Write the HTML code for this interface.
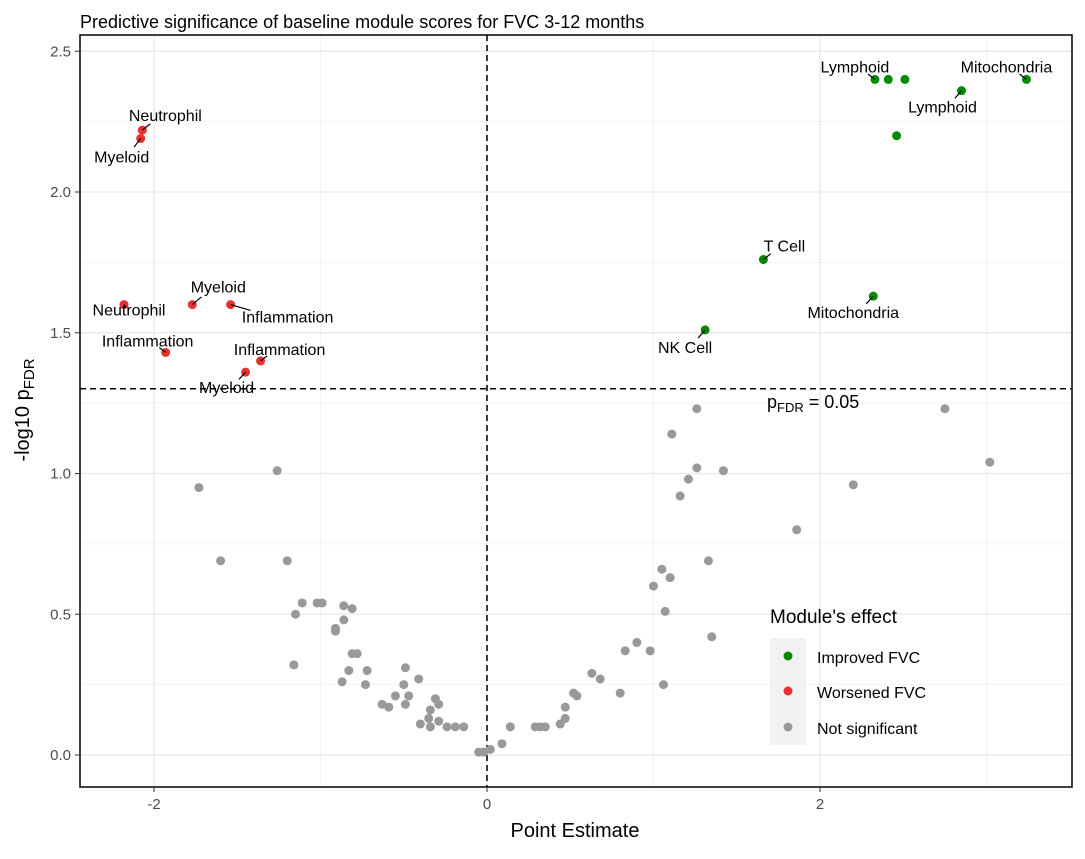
<!DOCTYPE html>
<html><head><meta charset="utf-8"><style>
body{margin:0;background:#fff;font-family:"Liberation Sans",Arial,sans-serif}
svg text{font-family:"Liberation Sans",Arial,sans-serif}
</style></head><body>
<svg id="chart" width="1085" height="854">
<text x="80" y="28" font-size="18" fill="#000">Predictive significance of baseline module scores for FVC 3-12 months</text>
<g id="grid"></g>
<g id="marks"></g>
<g id="labels"></g>
<rect x="80" y="35" width="992" height="752" fill="none" stroke="#000" stroke-width="1.5"/>
<g id="axes"></g>
<text x="575" y="837" font-size="20" text-anchor="middle">Point Estimate</text>
<text transform="translate(29,410) rotate(-90)" font-size="20" text-anchor="middle">-log10 p<tspan font-size="15" dy="5">FDR</tspan></text>
<g>
<text x="770" y="623" font-size="19">Module's effect</text>
<rect x="770" y="638" width="36" height="107" fill="#f2f2f2"/>
<circle cx="788" cy="656" r="4.5" fill="#008B00"/>
<circle cx="788" cy="691" r="4.5" fill="#E83232"/>
<circle cx="788" cy="727" r="4.5" fill="#999"/>
<text x="817" y="663" font-size="16">Improved FVC</text>
<text x="817" y="698" font-size="16">Worsened FVC</text>
<text x="817" y="734" font-size="16">Not significant</text>
</g>
</svg>
<script>
const grayX=[-1.73,-1.60,-1.26,-1.20,-1.15,-1.11,-1.16,-1.02,-0.99,-0.86,-0.81,-0.91,-0.91,-0.86,-0.81,-0.78,-0.87,-0.83,-0.72,-0.73,-0.63,-0.59,-0.55,-0.50,-0.49,-0.47,-0.41,-0.49,-0.40,-0.35,-0.34,-0.31,-0.29,-0.29,-0.34,-0.24,-0.19,-0.14,-0.05,-0.02,0.02,0.09,0.14,0.29,0.32,0.35,0.44,0.47,0.47,0.52,0.54,0.63,0.68,0.80,0.83,0.90,0.98,1.00,1.05,1.07,1.10,1.06,1.11,1.16,1.21,1.26,1.26,1.33,1.35,1.42,1.86,2.20,2.75,3.02];
const grayY=[0.95,0.69,1.01,0.69,0.50,0.54,0.32,0.54,0.54,0.53,0.52,0.45,0.44,0.48,0.36,0.36,0.26,0.30,0.30,0.25,0.18,0.17,0.21,0.25,0.31,0.21,0.27,0.18,0.11,0.13,0.16,0.20,0.18,0.12,0.10,0.10,0.10,0.10,0.01,0.01,0.02,0.04,0.10,0.10,0.10,0.10,0.11,0.13,0.17,0.22,0.21,0.29,0.27,0.22,0.37,0.40,0.37,0.60,0.66,0.51,0.63,0.25,1.14,0.92,0.98,1.23,1.02,0.69,0.42,1.01,0.80,0.96,1.23,1.04];
const redX=[-2.18,-1.77,-1.54,-1.93,-1.36,-1.45,-2.07,-2.08];
const redY=[1.60,1.60,1.60,1.43,1.40,1.36,2.22,2.19];
const redLabels=["Neutrophil","Myeloid","Inflammation","Inflammation","Inflammation","Myeloid","Neutrophil","Myeloid"];
const greenX=[2.33,2.41,2.51,2.85,3.24,2.46,1.66,1.31,2.32];
const greenY=[2.40,2.40,2.40,2.36,2.40,2.20,1.76,1.51,1.63];
const greenLabels=["Lymphoid","","","Lymphoid","Mitochondria","","T Cell","NK Cell","Mitochondria"];
const xTicks=[-2,0,2];
const yTicks=[0,0.5,1.0,1.5,2.0,2.5];
const yTickLabels=["0.0","0.5","1.0","1.5","2.0","2.5"];
const threshold=1.30103;
// label offsets (pixels) for repel-style placement
const redOff=[[5,6],[26,-17],[57,13],[-18,-11],[19,-11],[-19,16],[23,-14],[-19,19]];
const greenOff=[[-20,-12],[0,0],[0,0],[-19,17],[-20,-12],[0,0],[21,-13],[-20,18],[-20,17]];
const xs=v=>487+v*166.5, ys=v=>755-v*281.5;
const NS="http://www.w3.org/2000/svg";
function mk(tag,attrs,parent){const e=document.createElementNS(NS,tag);for(const k in attrs)e.setAttribute(k,attrs[k]);parent.appendChild(e);return e;}
const grid=document.getElementById('grid'),marks=document.getElementById('marks'),labels=document.getElementById('labels'),axes=document.getElementById('axes');
[-3,-1,1,3].forEach(v=>{const l=mk('line',{x1:xs(v),x2:xs(v),y1:35,y2:787,stroke:'#f3f3f3','stroke-width':1},grid);});
[0.25,0.75,1.25,1.75,2.25].forEach(v=>{const l=mk('line',{x1:80,x2:1072,y1:ys(v),y2:ys(v),stroke:'#f3f3f3','stroke-width':1},grid);});
xTicks.forEach(v=>{const l=mk('line',{x1:xs(v),x2:xs(v),y1:35,y2:787,stroke:'#ebebeb','stroke-width':1.5},grid);
const t=mk('line',{x1:xs(v),x2:xs(v),y1:787,y2:792,stroke:'#333'},axes);
const tx=mk('text',{x:xs(v),y:809,'font-size':15,'text-anchor':'middle',fill:'#4d4d4d'},axes);tx.textContent=v;});
yTicks.forEach((v,i)=>{const l=mk('line',{x1:80,x2:1072,y1:ys(v),y2:ys(v),stroke:'#ebebeb','stroke-width':1.5},grid);
const t=mk('line',{x1:75,x2:80,y1:ys(v),y2:ys(v),stroke:'#333'},axes);
const tx=mk('text',{x:71,y:ys(v)+5,'font-size':15,'text-anchor':'end',fill:'#4d4d4d'},axes);tx.textContent=yTickLabels[i];});
let l=mk('line',{x1:xs(0),x2:xs(0),y1:35,y2:787,stroke:'#000','stroke-width':1.5,'stroke-dasharray':'6,4'},grid);


l=mk('line',{x1:80,x2:1072,y1:ys(threshold),y2:ys(threshold),stroke:'#000','stroke-width':1.5,'stroke-dasharray':'6,4'},grid);


const th=mk('text',{x:767,y:ys(threshold)+19,'font-size':18},labels);
th.innerHTML='p<tspan font-size="13" dy="4">FDR</tspan><tspan dy="-4"> = 0.05</tspan>';


grayX.forEach((x,i)=>{const c=mk('circle',{cx:xs(x),cy:ys(grayY[i]),r:4.5,fill:'#999'},marks);

});
function colored(X,Y,L,O,col,nm){X.forEach((x,i)=>{const px=xs(x),py=ys(Y[i]);
const c=mk('circle',{cx:px,cy:py,r:4.5,fill:col},marks);


if(L[i]){const lx=px+O[i][0],ly=py+O[i][1];
const ln=mk('line',{x1:px,y1:py,x2:px+O[i][0]*0.35,y2:py+O[i][1]*0.45,stroke:'#000','stroke-width':1.2},labels);


const t=mk('text',{x:lx,y:ly+5,'font-size':16,'text-anchor':'middle'},labels);t.textContent=L[i];

}});}
colored(redX,redY,redLabels,redOff,'#E83232','point-worsened');
colored(greenX,greenY,greenLabels,greenOff,'#008B00','point-improved');
</script>
</body></html>
